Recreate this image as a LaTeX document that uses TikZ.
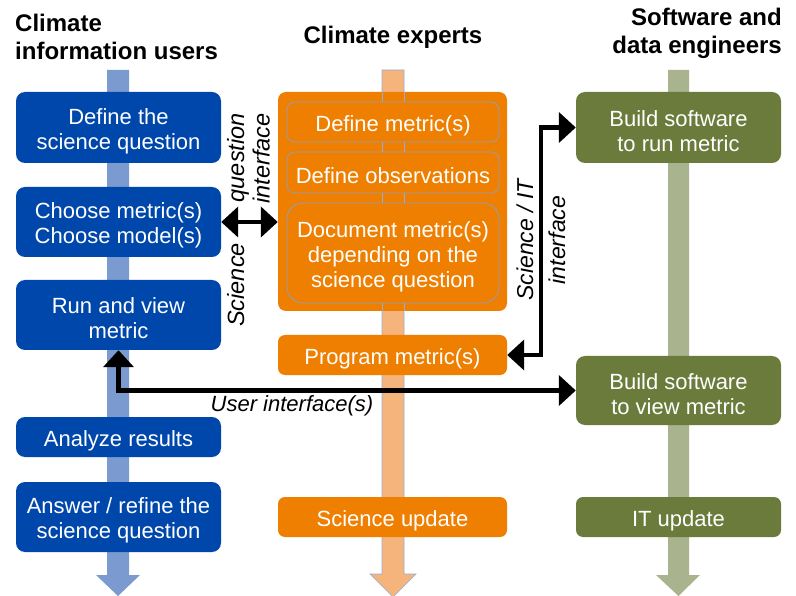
\documentclass[tikz,border=0pt]{standalone}
\usepackage{fontspec}
\setmainfont{Liberation Sans}
\usetikzlibrary{arrows.meta}
\definecolor{cblue}{HTML}{0047AB}
\definecolor{cbluebar}{HTML}{7B9BD0}
\definecolor{corange}{HTML}{EE7F00}
\definecolor{corangebar}{HTML}{F4B47C}
\definecolor{cgreen}{HTML}{6B7B3B}
\definecolor{cgreenbar}{HTML}{A9B48F}
\definecolor{cbarline}{HTML}{94AEDA}
\definecolor{cinline}{HTML}{8E9FBE}
\newcommand\tup{\rule{0pt}{23pt}}
\begin{document}
\begin{tikzpicture}[x=1pt,y=-1pt,
  box/.style={rounded corners=9pt, text=white, align=center, inner sep=0pt,
    font=\fontsize{22}{25}\selectfont, minimum width=205pt},
  bluebox/.style={box, fill=cblue},
  greenbox/.style={box, fill=cgreen},
  orangebox/.style={box, fill=corange, minimum width=229pt},
  innerbox/.style={box, fill=corange, draw=cinline, line width=0.8pt, minimum width=212pt, rounded corners=8pt},
  bar/.style={draw=cbarline, line width=0.7pt},
  conn/.style={line width=4.5pt, draw=black,
    {Triangle[length=17pt,width=30pt]}-{Triangle[length=17pt,width=30pt]}},
  lab/.style={inner sep=0pt, font=\fontsize{22}{25}\selectfont\itshape},
  hdr/.style={inner sep=0pt, font=\fontsize{24}{28}\selectfont\bfseries}
]
\useasboundingbox[fill=white] (0,0) rectangle (796,596);

% headers
\node[hdr, anchor=west, align=left] (h1) at (15,37) {Climate\\information users};
\node[hdr] (h2) at (393,37) {Climate experts};
\node[hdr, anchor=east, align=right] (h3) at (782,33) {Software and\\data engineers};

% bars
\fill[cbluebar] (107,70) -- (129,70) -- (129,575) -- (140,575) -- (118,596) -- (96,575) -- (107,575) -- cycle;
\filldraw[fill=corangebar, bar] (382,70) -- (404,70) -- (404,574) -- (416,574) -- (393,597) -- (370,574) -- (382,574) -- cycle;
\fill[cgreenbar] (668,70) -- (689,70) -- (689,575) -- (700,575) -- (678.5,596) -- (656,575) -- (668,575) -- cycle;

% blue column
\node[bluebox, minimum height=71pt] (def) at (118.5,127.5) {\tup Define the\\science question};
\node[bluebox, minimum height=70pt] (choose) at (118.5,222) {\tup Choose metric(s)\\Choose model(s)};
\node[bluebox, minimum height=70pt] (run) at (118.5,315) {\tup Run and view\\metric};
\node[bluebox, minimum height=40pt] (analyze) at (118.5,437) {\tup Analyze results};
\node[bluebox, minimum height=70pt] (answer) at (118.5,517) {\tup Answer / refine the\\science question};

% orange column
\node[orangebox, minimum height=219pt, rounded corners=8pt] (expert) at (392.5,201.5) {};
\draw[bar] (382,92) -- (382,311) (404,92) -- (404,311);
\node[innerbox, minimum height=40pt] (dm) at (393,122) {\tup Define metric(s)};
\node[innerbox, minimum height=41pt] (dobs) at (393,172.5) {\tup Define observations};
\node[innerbox, minimum height=100pt, rounded corners=16pt] (doc) at (393,253) {\tup Document metric(s)\\depending on the\\science question};
\node[orangebox, minimum height=40pt, rounded corners=7pt] (prog) at (392.5,355) {\tup Program metric(s)};
\node[orangebox, minimum height=40pt, rounded corners=7pt] (sciup) at (392.5,517) {\tup Science update};

% green column
\node[greenbox, minimum height=71pt] (build1) at (678.5,127.5) {\tup Build software\\to run metric};
\node[greenbox, minimum height=69pt] (build2) at (678.5,390.5) {\tup Build software\\to view metric};
\node[greenbox, minimum height=40pt, rounded corners=7pt] (itup) at (678.5,517) {\tup IT update};

% connectors
\coordinate (sit) at (541,240);
\draw[conn] (choose.east) -- (expert.west |- choose.east);
\draw[conn] (prog.east) -| (sit) |- (build1.west);
\draw[conn] (run.south) |- (build2.west);

% labels
\node[lab, rotate=90, align=right, font=\fontsize{23.5}{25.5}\selectfont\itshape] (sqi) at (248.5,220) {Science\hspace{41pt}question\\interface};
\node[lab, rotate=90, align=center, font=\fontsize{23}{32}\selectfont\itshape] (sitl) at (541,240) {Science / IT\\interface};
\node[lab] (uil) at (292,406) {User interface(s)};
\end{tikzpicture}
\end{document}
